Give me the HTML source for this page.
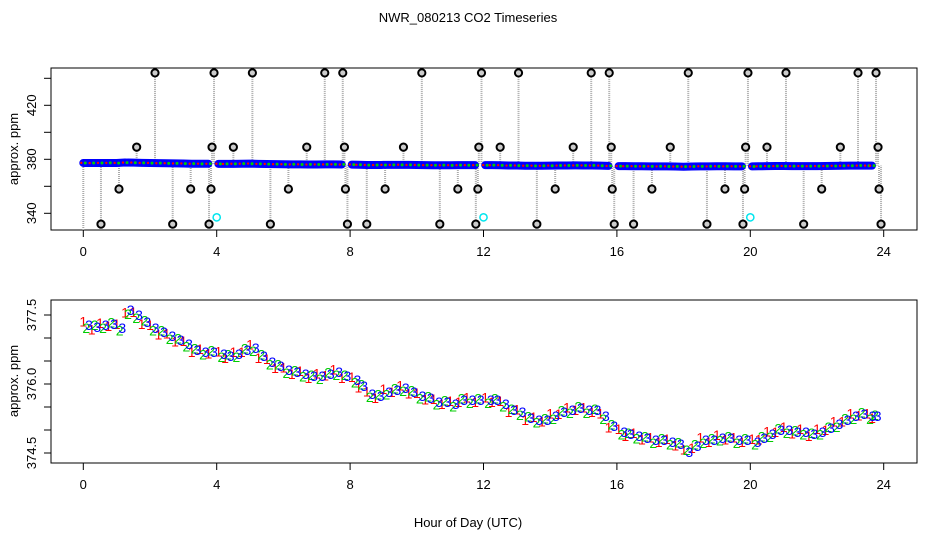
<!DOCTYPE html>
<html><head><meta charset="utf-8"><style>
body{margin:0;background:#fff;}
svg{display:block;font-family:"Liberation Sans",sans-serif;}
</style></head><body>
<svg id="c" width="936" height="540" xmlns="http://www.w3.org/2000/svg">
<rect width="936" height="540" fill="#fff"/>
<text x="468" y="22" text-anchor="middle" font-size="13">NWR_080213  CO2 Timeseries</text>
<text x="468" y="527" text-anchor="middle" font-size="13">Hour of Day (UTC)</text>
<text transform="translate(18,149) rotate(-90)" text-anchor="middle" font-size="13">approx. ppm</text>
<text transform="translate(18,381) rotate(-90)" text-anchor="middle" font-size="13">approx. ppm</text>
<g id="topPanel"></g>
<g id="botPanel"></g>
</svg>
<script>
const xTicks=[0,4,8,12,16,20,24];
const topYTicks=[340,360,380,400,420,440];
const topYLabels=["340","","380","","420",""];
const botYTicks=[374.5,375.0,375.5,376.0,376.5,377.0,377.5];
const botYLabels=["374.5","","","376.0","","","377.5"];
const hours=[0,0.25,0.5,0.75,1,1.25,1.5,1.75,2,2.25,2.5,2.75,3,3.25,3.5,3.75,4.05,4.25,4.5,4.75,5,5.25,5.5,5.75,6,6.25,6.5,6.75,7,7.25,7.5,7.75,8.05,8.25,8.5,8.75,9,9.25,9.5,9.75,10,10.25,10.5,10.75,11,11.25,11.5,11.75,12.05,12.25,12.5,12.75,13,13.25,13.5,13.75,14,14.25,14.5,14.75,15,15.25,15.5,15.75,16.05,16.25,16.5,16.75,17,17.25,17.5,17.75,18,18.25,18.5,18.75,19,19.25,19.5,19.75,20.05,20.25,20.5,20.75,21,21.25,21.5,21.75,22,22.25,22.5,22.75,23,23.25,23.5,23.65];
const series3=[377.28,377.24,377.28,377.30,377.22,377.61,377.50,377.35,377.22,377.13,377.04,376.96,376.87,376.74,376.70,376.70,
376.65,376.61,376.65,376.74,376.78,376.61,376.48,376.39,376.30,376.26,376.22,376.17,376.17,376.22,376.26,376.17,
376.09,375.96,375.78,375.74,375.83,375.87,375.91,375.83,375.74,375.70,375.61,375.61,375.57,375.65,375.65,375.65,
375.65,375.65,375.57,375.43,375.39,375.26,375.22,375.22,375.30,375.39,375.43,375.48,375.43,375.43,375.30,375.09,
374.96,374.91,374.87,374.83,374.78,374.78,374.74,374.70,374.52,374.65,374.78,374.78,374.83,374.83,374.78,374.78,
374.74,374.83,374.91,375.00,375.00,374.96,374.96,374.91,374.96,375.04,375.13,375.22,375.30,375.35,375.30,375.30];
const series1=[377.36,377.18,377.33,377.26,377.30,377.55,377.56,377.30,377.28,377.08,377.10,376.92,376.93,376.70,376.76,376.66,
376.71,376.56,376.70,376.70,376.86,376.57,376.54,376.35,376.36,376.22,376.28,376.13,376.23,376.18,376.32,376.13,
376.15,375.92,375.84,375.70,375.89,375.83,375.97,375.79,375.80,375.66,375.67,375.57,375.63,375.61,375.71,375.61,
375.71,375.61,375.63,375.39,375.45,375.22,375.28,375.18,375.36,375.35,375.49,375.44,375.49,375.39,375.36,375.05,
375.02,374.87,374.93,374.79,374.84,374.74,374.80,374.66,374.58,374.61,374.84,374.74,374.89,374.79,374.84,374.74,
374.80,374.79,374.97,374.96,375.06,374.92,375.02,374.87,375.02,375.00,375.19,375.18,375.36,375.31,375.36,375.26];
const series2=[377.22,377.28,377.22,377.34,377.16,377.52,377.44,377.38,377.16,377.16,376.98,376.99,376.81,376.77,376.64,376.73,
376.59,376.64,376.59,376.77,376.72,376.64,376.42,376.42,376.24,376.29,376.16,376.20,376.11,376.25,376.20,376.20,
376.03,375.99,375.72,375.77,375.77,375.90,375.85,375.86,375.68,375.73,375.55,375.64,375.51,375.68,375.59,375.68,
375.59,375.68,375.51,375.46,375.33,375.29,375.16,375.25,375.24,375.42,375.37,375.51,375.37,375.46,375.24,375.12,
374.90,374.94,374.81,374.86,374.72,374.81,374.68,374.73,374.56,374.68,374.72,374.81,374.77,374.86,374.72,374.81,
374.68,374.86,374.85,375.03,374.94,374.99,374.90,374.94,374.90,375.07,375.07,375.25,375.24,375.38,375.24,375.33];
const outHours=[0.53,1.07,1.6,2.15,2.68,3.22,3.77,3.83,3.86,3.92,4.5,5.07,5.61,6.15,6.7,7.24,7.78,7.83,7.86,7.92,8.5,9.05,9.6,10.15,10.69,11.23,11.77,11.83,11.86,11.94,12.5,13.05,13.6,14.15,14.69,15.23,15.77,15.83,15.86,15.92,16.5,17.05,17.6,18.14,18.7,19.24,19.78,19.83,19.86,19.93,20.5,21.07,21.6,22.14,22.7,23.23,23.77,23.83,23.86,23.92];
const outValues=[332,358,389,444,332,358,332,358,389,444,389,444,332,358,389,444,444,389,358,332,332,358,389,444,332,358,332,358,389,444,389,444,332,358,389,444,444,389,358,332,332,358,389,444,332,358,332,358,389,444,389,444,332,358,389,444,444,389,358,332];
const cyanHours=[4.0,12.0,20.0];
const cyanValues=[337,337,337];

const NS="http://www.w3.org/2000/svg";
function mk(t,a,p){const e=document.createElementNS(NS,t);for(const k in a)e.setAttribute(k,a[k]);p.appendChild(e);return e;}
const X0=51,X1=917;
const xs=h=>83.3+h*33.35;
const yT=v=>159.3-(v-380)*1.35;
const yB=v=>315-(v-377.5)*46;
const topG=document.getElementById('topPanel'),botG=document.getElementById('botPanel');

function frame(g,y0,y1,yt,ticks,labels,name){
  const r=mk('rect',{x:X0,y:y0,width:X1-X0,height:y1-y0,fill:'none',stroke:'#000','stroke-width':1},g);
  
  
  xTicks.forEach(t=>{
    const l=mk('line',{x1:xs(t),x2:xs(t),y1:y1,y2:y1+7,stroke:'#000'},g);
    
    
    const tx=mk('text',{x:xs(t),y:y1+26,'text-anchor':'middle','font-size':13},g);
    tx.textContent=t;
    
    
  });
  ticks.forEach((t,i)=>{
    const y=yt(t);
    const l=mk('line',{x1:X0-7,x2:X0,y1:y,y2:y,stroke:'#000'},g);
    
    
    if(labels[i]){
      const tx=mk('text',{transform:`translate(${X0-15},${y}) rotate(-90)`,'text-anchor':'middle','font-size':13},g);
      tx.textContent=labels[i];
      
      
    }
  });
}
frame(topG,68,230,yT,topYTicks,topYLabels,'top');
frame(botG,300,463,yB,botYTicks,botYLabels,'bottom');

const stem0=mk('line',{x1:xs(0),x2:xs(0),y1:yT(series3[0]),y2:230,stroke:'#aaa','stroke-width':2,'stroke-dasharray':'1,1'},topG);


outHours.forEach((h,i)=>{
  const l=mk('line',{x1:xs(h),x2:xs(h),y1:yT(outValues[i]),y2:yT(series3[Math.min(hours.length-1,Math.round(h*4))]),stroke:'#aaa','stroke-width':2,'stroke-dasharray':'1,1'},topG);
  
  
});
let seg=[];
const segs=[];
hours.forEach((h,i)=>{
  if(i>0 && h-hours[i-1]>0.27){segs.push(seg);seg=[];}
  seg.push([xs(h),yT(series3[i])]);
});
segs.push(seg);
segs.forEach(s=>{
  const p=mk('polyline',{points:s.map(q=>q.join(',')).join(' '),fill:'none',stroke:'#0000ff','stroke-width':8,'stroke-linecap':'round','stroke-linejoin':'round'},topG);
  
  
});
hours.forEach((h,i)=>{
  const a=mk('circle',{cx:xs(h)+2,cy:yT(series2[i]),r:1.5,fill:'#00cc00'},topG);
  
  
  const b=mk('circle',{cx:xs(h)-2,cy:yT(series1[i]),r:1.2,fill:'#ff0000'},topG);
  
  
});
outHours.forEach((h,i)=>{
  const c=mk('circle',{cx:xs(h),cy:yT(outValues[i]),r:3.6,fill:'#ccc',stroke:'#000','stroke-width':2},topG);
  
  
});
cyanHours.forEach((h,i)=>{
  const c=mk('circle',{cx:xs(h),cy:yT(cyanValues[i]),r:3.6,fill:'none',stroke:'#00e5ee','stroke-width':1.5},topG);
  
  
});

const sets=[[series1,'1','#ff0000',0],[series2,'2','#00cc00',0.09],[series3,'3','#0000ff',0.17]];
sets.forEach(([arr,ch,col,off])=>{
  hours.forEach((h,i)=>{
    const t=mk('text',{x:xs(h+off),y:yB(arr[i])+5,'text-anchor':'middle','font-size':14,fill:col},botG);
    t.textContent=ch;
    
    
  });
});
</script>
</body></html>
